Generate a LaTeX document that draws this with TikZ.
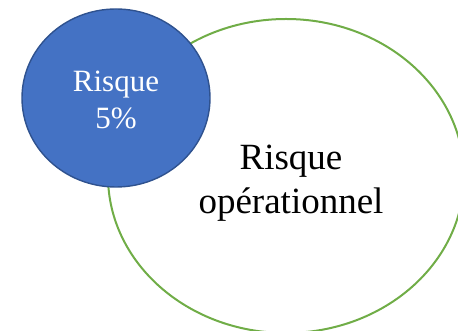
\documentclass[tikz,border=0pt]{standalone}
\usepackage{fontspec}
\setmainfont{Liberation Serif}
\usetikzlibrary{shapes.geometric}
\definecolor{vertOp}{HTML}{70AD47}
\definecolor{bleuRisque}{HTML}{4472C4}
\definecolor{bordRisque}{HTML}{2F528F}
\tikzset{
  grandovale/.style={ellipse,draw=vertOp,line width=2pt,minimum width=356pt,minimum height=314pt,inner sep=0pt},
  petitrond/.style={ellipse,draw=bordRisque,fill=bleuRisque,line width=1.4pt,minimum width=188pt,minimum height=178pt,inner sep=0pt},
}
\begin{document}
\begin{tikzpicture}[x=1pt,y=1pt]
			\useasboundingbox(0,0) rectangle (458,331);
			\node[grandovale](op) at(286,155){};
			\node[align=center,font=\fontsize{37}{44}\selectfont](optext) at(291,148){Risque\\op\'erationnel};
			\node[petitrond](risque) at(116,233){};
			\node[align=center,text=white,font=\fontsize{31}{37}\selectfont](risquetext) at(116,231){Risque\\5\%};
\end{tikzpicture}
\end{document}
